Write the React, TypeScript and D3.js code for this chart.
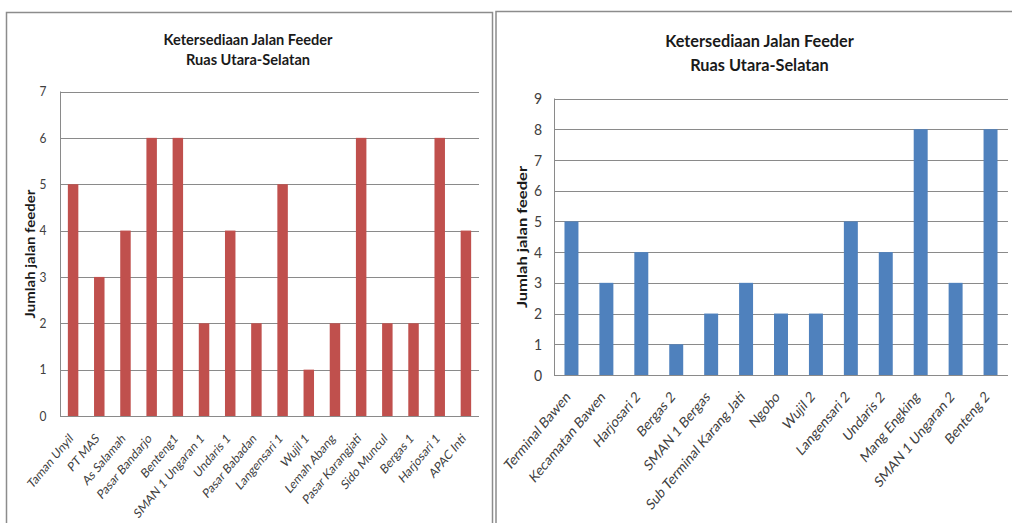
import React from "react";
import * as d3 from "d3";

// North–south feeder roads, group 1
const routesA: string[] = [
  "Taman Unyil", "PT MAS", "As Salamah", "Pasar Bandarjo", "Benteng1",
  "SMAN 1 Ungaran 1", "Undaris 1", "Pasar Babadan", "Langensari 1", "Wujil 1",
  "Lemah Abang", "Pasar Karangjati", "Sido Muncul", "Bergas 1", "Harjosari 1", "APAC Inti",
];
const feedersA: number[] = [5, 3, 4, 6, 6, 2, 4, 2, 5, 1, 2, 6, 2, 2, 6, 4];
const ticksA: number[] = [0, 1, 2, 3, 4, 5, 6, 7];

// North–south feeder roads, group 2
const routesB: string[] = [
  "Terminal Bawen", "Kecamatan Bawen", "Harjosari 2", "Bergas 2", "SMAN 1 Bergas",
  "Sub Terminal Karang Jati", "Ngobo", "Wujil 2", "Langensari 2", "Undaris 2",
  "Mang Engking", "SMAN 1 Ungaran 2", "Benteng 2",
];
const feedersB: number[] = [5, 3, 4, 1, 2, 3, 2, 2, 5, 4, 8, 3, 8];
const ticksB: number[] = [0, 1, 2, 3, 4, 5, 6, 7, 8, 9];

const titleLines = ["Ketersediaan Jalan Feeder", "Ruas Utara-Selatan"];
const yTitle = "Jumlah jalan feeder";

const FONT = "Lato, 'Open Sans', sans-serif";
// text is drawn slightly taller than wide
const STRETCH = 1.2;
const TITLE_STRETCH = 1.1;

interface PanelProps {
  cats: string[];
  vals: number[];
  ticks: number[];
  color: string;
  x0: number;
  x1: number;
  yTop: number;
  yBot: number;
  titleX: number;
  titleY: [number, number];
  titleSize: number;
  tickSize: number;
  tickX: number;
  labelSize: number;
  labelDx: number;
  labelDy: number;
  yTitleX: number;
  yTitleY: number;
  yTitleSize: number;
}

function Panel(p: PanelProps) {
  const x = d3.scaleBand<string>().domain(p.cats).range([p.x0, p.x1]).paddingInner(0.6).paddingOuter(0.3);
  const maxT = p.ticks[p.ticks.length - 1];
  const y = d3.scaleLinear().domain([0, maxT]).range([p.yBot, p.yTop]);
  return (
    <g>
      {titleLines.map((t, i) => (
        <text
          key={t}
          transform={`translate(${p.titleX},${p.titleY[i]}) scale(1,${TITLE_STRETCH})`}
          textAnchor="middle"
          fontFamily={FONT}
          fontWeight={700}
          fontSize={p.titleSize}
          fill="#1a1a1a"
        >
          {t}
        </text>
      ))}
      {p.ticks.map((t) => (
        <g key={t}>
          {t > 0 && (
            <line x1={p.x0} x2={p.x1} y1={Math.round(y(t)) + 0.5} y2={Math.round(y(t)) + 0.5} stroke="#8a8a8a" strokeWidth={1} />
          )}
          <text
            transform={`translate(${p.tickX},${y(t)}) scale(1,1.1)`}
            dy="0.36em"
            textAnchor="middle"
            fontFamily={FONT}
            fontSize={p.tickSize}
            fill="#404040"
          >
            {t}
          </text>
        </g>
      ))}
      <line x1={p.x0 + 0.5} x2={p.x0 + 0.5} y1={p.yTop} y2={p.yBot} stroke="#8a8a8a" />
      {p.cats.map((c, i) => (
        <rect key={c} x={x(c)} y={y(p.vals[i])} width={x.bandwidth()} height={p.yBot - y(p.vals[i])} fill={p.color} />
      ))}
      <line x1={p.x0} x2={p.x1} y1={Math.round(p.yBot) + 0.5} y2={Math.round(p.yBot) + 0.5} stroke="#8a8a8a" />
      {p.cats.map((c) => {
        const cx = (x(c) as number) + x.bandwidth() / 2;
        return (
          <text
            key={"l" + c}
            transform={`translate(${cx + p.labelDx},${p.yBot + p.labelDy}) scale(1,${STRETCH}) rotate(-45)`}
            textAnchor="end"
            dy="0.35em"
            fontFamily={FONT}
            fontSize={p.labelSize}
            fill="#404040"
          >
            {c}
          </text>
        );
      })}
      <text
        transform={`translate(${p.yTitleX},${p.yTitleY}) scale(1,${STRETCH}) rotate(-90)`}
        textAnchor="middle"
        dy="0.35em"
        fontFamily={FONT}
        fontWeight={700}
        fontSize={p.yTitleSize}
        fill="#1a1a1a"
      >
        {yTitle}
      </text>
    </g>
  );
}

export default function App() {
  return (
    <svg width={1012} height={523} style={{ position: "absolute", left: 0, top: 0, background: "#fff" }}>
      <rect x={0} y={0} width={1012} height={523} fill="#fff" />
      <rect x={6.5} y={12.5} width={486} height={530} fill="#fff" stroke="#8c8c8c" strokeWidth={1.5} />
      <rect x={496} y={11.5} width={600} height={530} fill="#fff" stroke="#8c8c8c" strokeWidth={1.5} />
      <Panel
        cats={routesA}
        vals={feedersA}
        ticks={ticksA}
        color="#C0504D"
        x0={60}
        x1={479}
        yTop={91.5}
        yBot={416}
        titleX={248}
        titleY={[44.5, 65]}
        titleSize={14.6}
        tickSize={12}
        tickX={43}
        labelSize={11}
        labelDx={-2}
        labelDy={20}
        yTitleX={31}
        yTitleY={254}
        yTitleSize={12.5}
      />
      <Panel
        cats={routesB}
        vals={feedersB}
        ticks={ticksB}
        color="#4F81BD"
        x0={554}
        x1={1008}
        yTop={98.5}
        yBot={375}
        titleX={759.5}
        titleY={[46.5, 70.5]}
        titleSize={16.3}
        tickSize={14}
        tickX={538}
        labelSize={12.5}
        labelDx={-3.5}
        labelDy={19}
        yTitleX={522}
        yTitleY={237}
        yTitleSize={13.8}
      />
    </svg>
  );
}
